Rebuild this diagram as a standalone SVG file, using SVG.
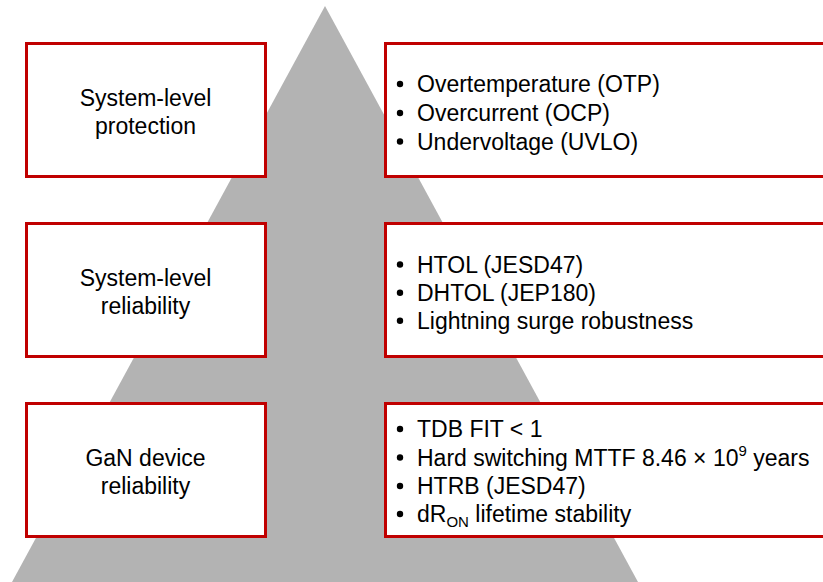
<svg xmlns="http://www.w3.org/2000/svg" width="823" height="582" viewBox="0 0 823 582">
<style>
.box{fill:#ffffff;stroke:#c00000;stroke-width:3}
.t{font-family:"Liberation Sans",Arial,sans-serif;font-size:23px;fill:#000000}
.c{text-anchor:middle}
.b{fill:#000000}
.sm{font-size:15px}
</style>
<polygon points="325,6 12,582 638,582" fill="#b3b3b3"/>
<g id="row1-left">
<rect class="box" x="26.5" y="43.5" width="239" height="133"/>
<text class="t c" x="145.5" y="106">System-level</text>
<text class="t c" x="145.5" y="134">protection</text>
</g>
<g id="row1-right">
<rect class="box" x="385.5" y="43.5" width="450" height="133"/>
<circle class="b" cx="400" cy="84" r="3.2"/>
<circle class="b" cx="400" cy="113" r="3.2"/>
<circle class="b" cx="400" cy="141.5" r="3.2"/>
<text class="t" x="417" y="92">Overtemperature (OTP)</text>
<text class="t" x="417" y="121">Overcurrent (OCP)</text>
<text class="t" x="417" y="149.5">Undervoltage (UVLO)</text>
</g>
<g id="row2-left">
<rect class="box" x="26.5" y="223.5" width="239" height="133"/>
<text class="t c" x="145.5" y="286">System-level</text>
<text class="t c" x="145.5" y="314">reliability</text>
</g>
<g id="row2-right">
<rect class="box" x="385.5" y="223.5" width="450" height="133"/>
<circle class="b" cx="400" cy="264.5" r="3.2"/>
<circle class="b" cx="400" cy="292.7" r="3.2"/>
<circle class="b" cx="400" cy="320.8" r="3.2"/>
<text class="t" x="417" y="272.5">HTOL (JESD47)</text>
<text class="t" x="417" y="300.7">DHTOL (JEP180)</text>
<text class="t" x="417" y="328.8">Lightning surge robustness</text>
</g>
<g id="row3-left">
<rect class="box" x="26.5" y="403.5" width="239" height="133"/>
<text class="t c" x="145.5" y="466">GaN device</text>
<text class="t c" x="145.5" y="494">reliability</text>
</g>
<g id="row3-right">
<rect class="box" x="385.5" y="403.5" width="450" height="133"/>
<circle class="b" cx="400" cy="429" r="3.2"/>
<circle class="b" cx="400" cy="457.5" r="3.2"/>
<circle class="b" cx="400" cy="486" r="3.2"/>
<circle class="b" cx="400" cy="514" r="3.2"/>
<text class="t" x="417" y="437">TDB FIT &lt; 1</text>
<text class="t" x="417" y="465.5">Hard switching MTTF 8.46 × 10<tspan class="sm" dy="-10">9</tspan><tspan dy="10"> years</tspan></text>
<text class="t" x="417" y="494">HTRB (JESD47)</text>
<text class="t" x="417" y="522">dR<tspan class="sm" dy="5">ON</tspan><tspan dy="-5"> lifetime stability</tspan></text>
</g>
<g id="connectors"/>
</svg>
